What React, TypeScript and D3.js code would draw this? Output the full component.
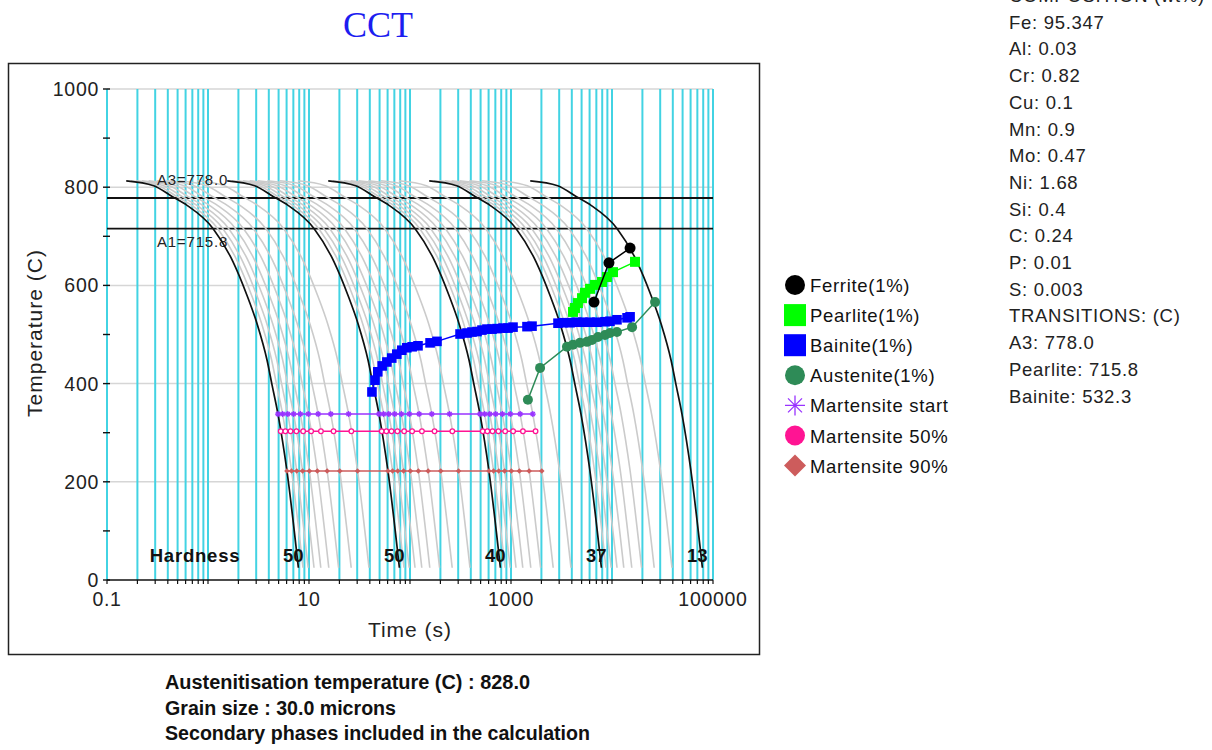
import React, { useEffect, useRef } from 'react';
import * as d3 from 'd3';

// cooling rates (C/s) of the family of cooling curves, the labelled ones drawn black
const coolingRates = [100, 90, 80, 70, 60, 50, 40, 30, 20, 10, 9, 8, 7, 6, 5, 4, 3, 2, 1,
    0.9, 0.8, 0.7, 0.6, 0.5, 0.4, 0.3, 0.2, 0.1, 0.09, 0.08, 0.07, 0.06, 0.05, 0.04, 0.03, 0.02, 0.01];
const labelledRates = [100, 10, 1, 0.1, 0.01];
const hardness = [50, 50, 40, 37, 13];

// the 100 C/s curve; slower curves stretch it in time
const profileTimes = [0.155, 0.29, 0.45, 0.62, 1.12, 1.77, 2.43, 3.06, 3.84, 4.3, 4.93, 6.05, 7.85];
const profileTemps = [813, 803, 780, 763, 716, 648, 580, 522, 448, 398, 338, 222, 25];

const transitionNames = ['A3', 'A1'];
const transitionTemps = [778.0, 715.8];

const ferriteTimes = [6640, 9330, 15100];
const ferriteTemps = [566, 646, 676];

const pearliteTimes = [4110, 4300, 4600, 5050, 5400, 6060, 6790, 7960, 8910, 10230, 16900];
const pearliteTemps = [546, 554, 564, 574, 585, 593, 601, 607, 617, 627, 648];

const bainiteTimes = [42, 45, 48, 53, 59, 66, 74, 83, 93, 105, 120, 158, 185, 313, 367, 411, 461, 516,
    579, 649, 727, 834, 934, 1047, 1440, 1615, 2920, 3270, 3840, 4500, 5160, 6060, 7100, 8530, 9550,
    11200, 14100, 15100];
const bainiteTemps = [383, 407, 424, 436, 444, 452, 460, 468, 473, 475, 477, 483, 486, 501, 503, 505,
    506, 509, 511, 511, 512, 513, 513, 515, 516, 517, 523, 524, 524, 525, 525, 525, 525, 526, 527,
    530, 534, 536];

const austeniteTimes = [1470, 1940, 3580, 4110, 4820, 5650, 6340, 7270, 8530, 9550, 11200, 15800, 26700];
const austeniteTemps = [367, 432, 475, 479, 483, 485, 489, 495, 499, 503, 505, 515, 566];

const martensiteNames = ['Martensite start', 'Martensite 50%', 'Martensite 90%'];
const martensiteTemps = [338, 303, 222];
const martensiteTimes100 = [4.93, 5.25, 6.05];
const martensiteSlowestRate = 0.3;

const legendNames = ['Ferrite(1%)', 'Pearlite(1%)', 'Bainite(1%)', 'Austenite(1%)', ...martensiteNames];
const legendColors = ['#000000', '#00ff00', '#0000ff', '#2e8b57', '#9933ff', '#ff1493', '#cd5c5c'];
const legendShapes = ['circle', 'square', 'square', 'circle', 'star', 'circle', 'diamond'];

const compositionLines = ['COMPOSITION (wt%)', 'Fe: 95.347', 'Al: 0.03', 'Cr: 0.82', 'Cu: 0.1', 'Mn: 0.9',
    'Mo: 0.47', 'Ni: 1.68', 'Si: 0.4', 'C: 0.24', 'P: 0.01', 'S: 0.003', 'TRANSITIONS: (C)',
    'A3: 778.0', 'Pearlite: 715.8', 'Bainite: 532.3'];
const infoLines = ['Austenitisation temperature (C) : 828.0', 'Grain size : 30.0 microns',
    'Secondary phases included in the calculation'];
const infoWidths = [365, 231, 425];

const xTickLabels = [0.1, 10, 1000, 100000];
const yTickLabels = [0, 200, 400, 600, 800, 1000];

const SANS = '"Liberation Sans", Arial, sans-serif';

const drawSymbol = (g, shape, cx, cy, r, color) => {
    if (shape === 'circle') {
        g.append('circle').attr('cx', cx).attr('cy', cy).attr('r', r).attr('fill', color);
    } else if (shape === 'square') {
        g.append('rect').attr('x', cx - r).attr('y', cy - r).attr('width', 2 * r).attr('height', 2 * r).attr('fill', color);
    } else if (shape === 'diamond') {
        g.append('path').attr('d', `M${cx},${cy - r}L${cx + r},${cy}L${cx},${cy + r}L${cx - r},${cy}Z`).attr('fill', color);
    } else if (shape === 'star') {
        const d = r * 0.7;
        g.append('path')
            .attr('d', `M${cx - r},${cy}H${cx + r}M${cx},${cy - r}V${cy + r}M${cx - d},${cy - d}L${cx + d},${cy + d}M${cx - d},${cy + d}L${cx + d},${cy - d}`)
            .attr('stroke', color).attr('stroke-width', 1.3).attr('fill', 'none');
    }
};

const createChart = (container) => {
    const svg = d3.select(container);
    svg.selectAll('*').remove();

    const x = d3.scaleLog().domain([0.1, 100000]).range([107, 713]);
    const y = d3.scaleLinear().domain([0, 1000]).range([580, 89]);

    svg.append('rect').attr('width', 1212).attr('height', 750).attr('fill', '#fff');
    svg.append('rect').attr('x', 8.5).attr('y', 63.5).attr('width', 751).attr('height', 591)
        .attr('fill', 'none').attr('stroke', '#222').attr('stroke-width', 1.5);

    svg.append('text').attr('x', 378).attr('y', 37).attr('text-anchor', 'middle')
        .style('font-family', '"Liberation Serif", "Times New Roman", serif').style('font-size', '36px')
        .attr('fill', '#1d1df0').text('CCT');

    const plot = svg.append('g');

    // horizontal grid
    plot.selectAll('.hgrid').data(yTickLabels.filter(v => v > 0)).enter().append('line')
        .attr('x1', x(0.1)).attr('x2', x(100000)).attr('y1', d => y(d)).attr('y2', d => y(d))
        .attr('stroke', '#d6d6d6').attr('stroke-width', 1.5);

    // vertical cyan grid on every log tick
    plot.selectAll('.vgrid').data(x.ticks()).enter().append('line')
        .attr('x1', d => x(d)).attr('x2', d => x(d)).attr('y1', y(1000)).attr('y2', y(0))
        .attr('stroke', '#42d3e3').attr('stroke-width', 2);

    // A3 / A1
    transitionTemps.forEach(t => {
        plot.append('line').attr('x1', x(0.1)).attr('x2', x(100000)).attr('y1', y(t)).attr('y2', y(t))
            .attr('stroke', '#111').attr('stroke-width', 1.8);
    });

    const curve = (rate) => d3.line()
        .x(i => x(profileTimes[i] * 100 / rate))
        .y(i => y(profileTemps[i]))
        .curve(d3.curveMonotoneX)(d3.range(profileTimes.length));

    coolingRates.filter(r => !labelledRates.includes(r)).forEach(r => {
        plot.append('path').attr('d', curve(r)).attr('fill', 'none')
            .attr('stroke', '#cbcbcb').attr('stroke-width', 1.6);
    });

    transitionTemps.forEach((t, i) => {
        plot.append('text').attr('x', 157).attr('y', i === 0 ? y(t) - 13 : y(t) + 18)
            .style('font-family', SANS).style('font-size', '15px').style('letter-spacing', '0.8px')
            .attr('fill', '#222').text(`${transitionNames[i]}=${t.toFixed(1)}`);
    });

    labelledRates.forEach(r => {
        plot.append('path').attr('d', curve(r)).attr('fill', 'none')
            .attr('stroke', '#111').attr('stroke-width', 1.7);
    });

    // axes
    plot.append('line').attr('x1', x(0.1)).attr('x2', x(100000)).attr('y1', y(0)).attr('y2', y(0))
        .attr('stroke', '#111').attr('stroke-width', 1.5);
    plot.selectAll('.xtick').data(x.ticks()).enter().append('line')
        .attr('x1', d => x(d)).attr('x2', d => x(d)).attr('y1', y(0)).attr('y2', y(0) + 4)
        .attr('stroke', '#111').attr('stroke-width', 1.2);
    plot.selectAll('.ytick').data(y.ticks(10)).enter().append('line')
        .attr('x1', 103).attr('x2', 110).attr('y1', d => y(d)).attr('y2', d => y(d))
        .attr('stroke', '#111').attr('stroke-width', 1.4);
    plot.selectAll('.xlab').data(xTickLabels).enter().append('text')
        .attr('x', d => x(d)).attr('y', 606).attr('text-anchor', 'middle')
        .style('font-family', SANS).style('font-size', '19.5px').style('letter-spacing', '0.7px')
        .attr('fill', '#222').text(d => String(d));
    plot.selectAll('.ylab').data(yTickLabels).enter().append('text')
        .attr('x', 99).attr('y', d => y(d) + 7).attr('text-anchor', 'end')
        .style('font-family', SANS).style('font-size', '19.5px').style('letter-spacing', '0.7px')
        .attr('fill', '#222').text(d => String(d));
    plot.append('text').attr('x', 410).attr('y', 637).attr('text-anchor', 'middle')
        .style('font-family', SANS).style('font-size', '21px').style('letter-spacing', '1px')
        .attr('fill', '#222').text('Time (s)');
    plot.append('text').attr('transform', 'translate(42,333) rotate(-90)').attr('text-anchor', 'middle')
        .style('font-family', SANS).style('font-size', '21px').style('letter-spacing', '1px')
        .attr('fill', '#222').text('Temperature (C)');

    // martensite lines with a marker on every cooling curve that reaches them
    const mRates = coolingRates.filter(r => r >= martensiteSlowestRate);
    martensiteTemps.forEach((temp, i) => {
        const times = mRates.map(r => martensiteTimes100[i] * 100 / r);
        const color = legendColors[4 + i];
        plot.append('line').attr('x1', x(times[0])).attr('x2', x(times[times.length - 1]))
            .attr('y1', y(temp)).attr('y2', y(temp)).attr('stroke', color).attr('stroke-width', 1.5);
        times.forEach(t => {
            const cx = x(t), cy = y(temp);
            if (i === 0) drawSymbol(plot, 'star', cx, cy, 3, color);
            else if (i === 1) plot.append('circle').attr('cx', cx).attr('cy', cy).attr('r', 2.3)
                .attr('fill', '#fff').attr('stroke', color).attr('stroke-width', 1.3);
            else drawSymbol(plot, 'diamond', cx, cy, 2.8, color);
        });
    });

    const series = (times, temps, color, shape, r) => {
        const line = d3.line().x(i => x(times[i])).y(i => y(temps[i]));
        plot.append('path').attr('d', line(d3.range(times.length))).attr('fill', 'none')
            .attr('stroke', color).attr('stroke-width', 1.5);
        times.forEach((t, i) => drawSymbol(plot, shape, x(t), y(temps[i]), r, color));
    };
    series(austeniteTimes, austeniteTemps, legendColors[3], 'circle', 5);
    series(bainiteTimes, bainiteTemps, legendColors[2], 'square', 4.8);
    series(pearliteTimes, pearliteTemps, legendColors[1], 'square', 5);
    series(ferriteTimes, ferriteTemps, legendColors[0], 'circle', 5.5);

    // hardness at the foot of each labelled curve
    plot.append('text').attr('x', 195).attr('y', 562).attr('text-anchor', 'middle')
        .style('font-family', SANS).style('font-size', '18.5px').style('font-weight', 'bold')
        .style('letter-spacing', '0.8px').attr('fill', '#111').text('Hardness');
    labelledRates.forEach((r, i) => {
        plot.append('text').attr('x', x(profileTimes[profileTimes.length - 1] * 100 / r) - 5).attr('y', 562)
            .attr('text-anchor', 'middle')
            .style('font-family', SANS).style('font-size', '18.5px').style('font-weight', 'bold')
            .attr('fill', '#111').text(String(hardness[i]));
    });

    // legend
    const legend = svg.append('g');
    legendNames.forEach((name, i) => {
        const base = 292 + 30.1 * i;
        const s = legendShapes[i];
        drawSymbol(legend, s, 795, base - 7, s === 'square' ? 11 : s === 'diamond' ? 11 : 10, legendColors[i]);
        legend.append('text').attr('x', 810).attr('y', base)
            .style('font-family', SANS).style('font-size', '18.5px').style('letter-spacing', '0.7px')
            .attr('fill', '#111').text(name);
    });

    // composition panel (its heading runs off the top edge, as in the original)
    compositionLines.forEach((line, i) => {
        svg.append('text').attr('x', 1009).attr('y', 2 + 26.7 * i)
            .style('font-family', SANS).style('font-size', '18.5px').style('letter-spacing', '0.7px')
            .attr('fill', '#222').text(line);
    });

    infoLines.forEach((line, i) => {
        svg.append('text').attr('x', 165).attr('y', 689 + 25.5 * i)
            .attr('textLength', infoWidths[i]).attr('lengthAdjust', 'spacingAndGlyphs')
            .style('font-family', SANS).style('font-size', '20px').style('font-weight', 'bold')
            .attr('fill', '#111').text(line);
    });
};

const App = () => {
    const ref = useRef(null);
    useEffect(() => {
        if (ref.current) createChart(ref.current);
    }, []);
    return (
        <svg ref={ref} width={1212} height={750}
            style={{ position: 'absolute', left: 0, top: 0, display: 'block' }} />
    );
};

export default App;
